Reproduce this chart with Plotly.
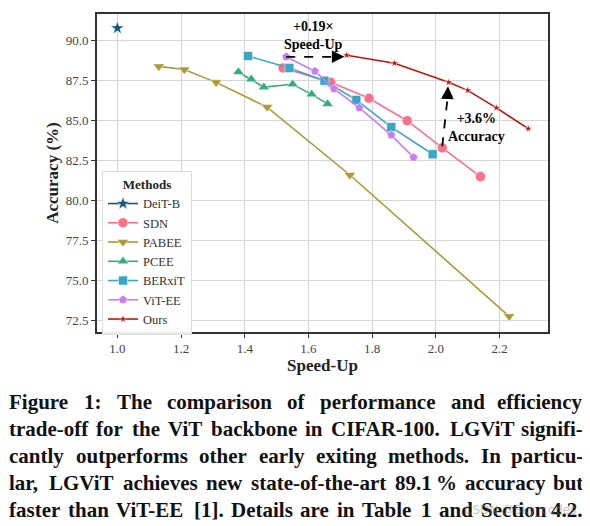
import plotly.graph_objects as go

# ---------------- data ----------------
deit_x = [1.00]
deit_y = [90.8]

sdn_x = [1.52, 1.67, 1.79, 1.91, 2.02, 2.14]
sdn_y = [88.3, 87.4, 86.4, 85.0, 83.3, 81.5]

pabee_x = [1.13, 1.21, 1.31, 1.47, 1.73, 2.23]
pabee_y = [88.4, 88.2, 87.4, 85.85, 81.6, 72.75]

pcee_x = [1.38, 1.42, 1.46, 1.55, 1.61, 1.66]
pcee_y = [88.05, 87.6, 87.1, 87.28, 86.65, 86.05]

berxit_x = [1.41, 1.54, 1.65, 1.75, 1.86, 1.99]
berxit_y = [89.05, 88.3, 87.5, 86.3, 84.6, 82.9]

vitee_x = [1.53, 1.62, 1.68, 1.76, 1.86, 1.93]
vitee_y = [89.0, 88.1, 87.0, 85.8, 84.1, 82.7]

ours_x = [1.72, 1.87, 2.04, 2.10, 2.19, 2.29]
ours_y = [89.1, 88.6, 87.4, 86.9, 85.8, 84.5]

x_ticks = [1.0, 1.2, 1.4, 1.6, 1.8, 2.0, 2.2]
y_ticks = [72.5, 75.0, 77.5, 80.0, 82.5, 85.0, 87.5, 90.0]

caption_lines = [
    "Figure 1: The comparison of performance and efficiency",
    "trade-off for the ViT backbone in CIFAR-100. LGViT signifi-",
    "cantly outperforms other early exiting methods. In particu-",
    "lar, LGViT achieves new state-of-the-art 89.1\u2009% accuracy but",
    "faster than ViT-EE [1]. Details are in Table 1 and Section 4.2.",
]

# ---------------- layout constants ----------------
# the page body has an 8px margin, so the figure is drawn 8px smaller
OFF = 8
W, H = 590 - OFF, 526 - OFF
ML, MR, MT, MB = 97 - OFF, 42, 12 - OFF, 194
PW, PH = W - ML - MR, H - MT - MB
SERIF = "Liberation Serif, Times New Roman, serif"

series = [
    ("DeiT-B", deit_x, deit_y, "#17567c", "star", 10),
    ("SDN", sdn_x, sdn_y, "#f7728a", "circle", 10),
    ("PABEE", pabee_x, pabee_y, "#ab9a33", "triangle-down", 10),
    ("PCEE", pcee_x, pcee_y, "#36ad79", "triangle-up", 10),
    ("BERxiT", berxit_x, berxit_y, "#3aa6c6", "square", 9),
    ("ViT-EE", vitee_x, vitee_y, "#c97df0", "pentagon", 9),
    ("Ours", ours_x, ours_y, "#b5170f", "star", 6),
]

fig = go.Figure()
for name, xs, ys, col, sym, sz in series:
    fig.add_trace(go.Scatter(
        x=xs, y=ys, name=name, mode="lines+markers",
        line=dict(color=col, width=1.6),
        marker=dict(symbol=sym, size=sz, color=col,
                    line=dict(color="white", width=0.5)),
    ))

# ---------------- arrows ----------------
fig.add_shape(type="line", xref="x", yref="y",
              x0=vitee_x[0], y0=vitee_y[0], x1=ours_x[0] - 0.03, y1=vitee_y[0],
              line=dict(color="black", width=1.8, dash="dash"))
fig.add_annotation(x=ours_x[0] - 0.007, y=vitee_y[0], ax=ours_x[0] - 0.04, ay=vitee_y[0],
                   xref="x", yref="y", axref="x", ayref="y", text="",
                   showarrow=True, arrowhead=2, arrowsize=1.4, arrowwidth=1.8,
                   arrowcolor="black")
fig.add_shape(type="line", xref="x", yref="y",
              x0=sdn_x[4], y0=sdn_y[4] + 0.1, x1=ours_x[2] - 0.003, y1=ours_y[2] - 0.9,
              line=dict(color="black", width=1.8, dash="dash"))
fig.add_annotation(x=ours_x[2] - 0.002, y=ours_y[2] - 0.25, ax=ours_x[2] - 0.004, ay=ours_y[2] - 1.1,
                   xref="x", yref="y", axref="x", ayref="y", text="",
                   showarrow=True, arrowhead=2, arrowsize=1.4, arrowwidth=1.8,
                   arrowcolor="black")

fig.add_annotation(x=1.617, y=90.32, xref="x", yref="y", showarrow=False,
                   text="<b>+0.19×</b><br><b>Speed-Up</b>",
                   font=dict(family=SERIF, size=14, color="black"), align="center")
fig.add_annotation(x=2.128, y=84.59, xref="x", yref="y", showarrow=False,
                   text="<b>+3.6%</b><br><b>Accuracy</b>",
                   font=dict(family=SERIF, size=14, color="black"), align="center")

# ---------------- justified caption ----------------
TB = {' ': 250, '%': 1000, ',': 250, '-': 333, '.': 250, ':': 333, '[': 333, ']': 333,
      '\u2009': 167,
      'A': 722, 'B': 667, 'C': 722, 'D': 722, 'E': 667, 'F': 611, 'G': 778, 'H': 778,
      'I': 389, 'J': 500, 'K': 778, 'L': 667, 'M': 944, 'N': 722, 'O': 778, 'P': 611,
      'Q': 778, 'R': 722, 'S': 556, 'T': 667, 'U': 722, 'V': 722, 'W': 1000, 'X': 722,
      'Y': 722, 'Z': 667,
      'a': 500, 'b': 556, 'c': 444, 'd': 556, 'e': 444, 'f': 333, 'g': 500, 'h': 556,
      'i': 278, 'j': 333, 'k': 556, 'l': 278, 'm': 833, 'n': 556, 'o': 500, 'p': 556,
      'q': 556, 'r': 444, 's': 389, 't': 333, 'u': 556, 'v': 500, 'w': 722, 'x': 500,
      'y': 500, 'z': 444}
CAP_FS = 21
CAP_L, CAP_R = 8, 584            # page pixels
cap_centers = [402, 429.5, 457, 484, 511]   # page pixels


def wwidth(word):
    return sum(TB.get(c, 500) for c in word) * CAP_FS / 1000.0


def px2paper(px, py):
    # page pixel -> paper coordinate
    fx, fy = px - OFF, py - OFF
    return (fx - ML) / PW, (MT + PH - fy) / PH


for line, cy in zip(caption_lines, cap_centers):
    words = line.split(" ")
    widths = [wwidth(w) for w in words]
    gap = (CAP_R - CAP_L - sum(widths)) / (len(words) - 1)
    xpos = CAP_L
    for i, (w, wd) in enumerate(zip(words, widths)):
        last = i == len(words) - 1
        px = CAP_R if last else xpos
        ax_, ay_ = px2paper(px, cy)
        fig.add_annotation(x=ax_, y=ay_, xref="paper", yref="paper", showarrow=False,
                           text="<b>" + w + "</b>", xanchor="right" if last else "left",
                           yanchor="middle", borderpad=0,
                           font=dict(family=SERIF, size=CAP_FS, color="#111111"))
        xpos += wd + gap

# faint watermark
wx, wy = px2paper(520, 511)
fig.add_annotation(x=wx, y=wy, xref="paper", yref="paper", showarrow=False,
                   text="CSDN @Sky_codes", xanchor="center", yanchor="middle",
                   font=dict(family="DejaVu Sans, sans-serif", size=12,
                             color="rgba(140,140,140,0.5)"))

axis_common = dict(
    showline=True, linecolor="#333333", linewidth=1.6, mirror=True,
    ticks="outside", ticklen=4, tickwidth=1.2, tickcolor="#333333",
    showgrid=True, gridcolor="#d6d6d6", gridwidth=1, zeroline=False,
    tickfont=dict(family=SERIF, size=13, color="#444444"),
)

lx, ly = px2paper(102, 170)

fig.update_layout(
    width=W, height=H,
    margin=dict(l=ML, r=MR, t=MT, b=MB),
    paper_bgcolor="white", plot_bgcolor="white",
    xaxis=dict(range=[0.936, 2.352], tickvals=x_ticks,
               ticktext=[f"{v:.1f}" for v in x_ticks],
               title=dict(text="<b>Speed-Up</b>", standoff=3,
                          font=dict(family=SERIF, size=17, color="#222222")),
               **axis_common),
    yaxis=dict(range=[71.77, 91.68], tickvals=y_ticks,
               ticktext=[f"{v:.1f}" for v in y_ticks],
               title=dict(text="<b>Accuracy (%)</b>", standoff=3,
                          font=dict(family=SERIF, size=17, color="#222222")),
               **axis_common),
    legend=dict(
        title=dict(text="<b>Methods</b>", side="top center",
                   font=dict(family=SERIF, size=13, color="#222222")),
        font=dict(family=SERIF, size=12.5, color="#333333"),
        x=lx, y=ly, xanchor="left", yanchor="top",
        bgcolor="rgba(255,255,255,0.9)", bordercolor="#dddddd", borderwidth=1,
        itemwidth=30, tracegroupgap=0,
    ),
    showlegend=True,
)

fig.write_html("out.html")
